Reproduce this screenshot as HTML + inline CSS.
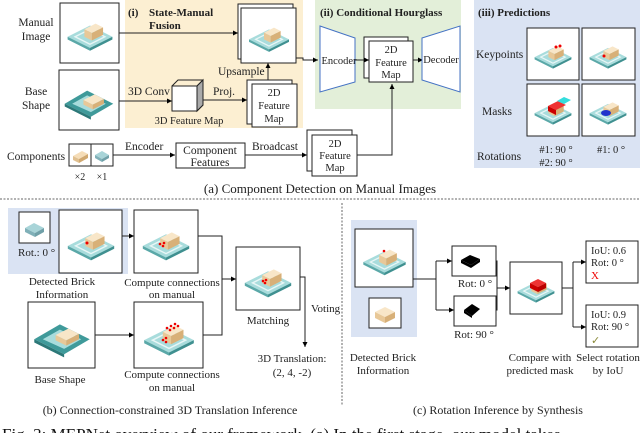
<!DOCTYPE html>
<html><head><meta charset="utf-8">
<style>
html,body{margin:0;padding:0;background:#fff;}
svg{display:block;font-family:"Liberation Serif",serif;}
</style></head>
<body>
<svg width="640" height="433" viewBox="0 0 640 433" xmlns="http://www.w3.org/2000/svg">
<defs>
<marker id="ar" markerWidth="6" markerHeight="6" refX="5" refY="3" orient="auto" markerUnits="userSpaceOnUse">
<path d="M0,0.5 L5,3 L0,5.5 z" fill="#000"/></marker>
<symbol id="sc" viewBox="0 0 60 60">
<polygon points="6,34 30,22 54,34 30,46" fill="#a8dcdc"/>
<polygon points="6,34 30,46 30,49 6,37" fill="#5aa8a8"/>
<polygon points="30,46 54,34 54,37 30,49" fill="#3f9090"/>
<polygon points="14,34 30,26 46,34 30,42" fill="none" stroke="#e8f6f6" stroke-width="1.5"/>
<polygon points="24,26 36,20 44,24 32,30" fill="#f8e6c8"/>
<polygon points="24,26 32,30 32,38 24,34" fill="#e8c898"/>
<polygon points="32,30 44,24 44,32 32,38" fill="#d8b078"/>
</symbol>
<symbol id="sc2" viewBox="0 0 60 60">
<polygon points="4,34 28,20 56,34 32,48" fill="#3f9a9a"/>
<polygon points="12,34 28,25 48,34 32,43" fill="#a8dcdc"/>
<polygon points="4,34 32,48 32,51 4,37" fill="#2c7878"/>
<polygon points="24,30 36,24 46,29 34,35" fill="#f8e6c8"/>
<polygon points="24,30 34,35 34,40 24,35" fill="#e8c898"/>
<polygon points="34,35 46,29 46,34 34,40" fill="#d8b078"/>
</symbol>
</defs>

<!-- backgrounds -->
<rect x="125" y="0" width="178" height="128" fill="#fcefd2"/>
<rect x="315" y="0" width="146" height="109" fill="#e3efd9"/>
<rect x="474" y="0" width="166" height="168" fill="#dae3f3"/>
<rect x="8" y="208" width="120" height="66" fill="#dae3f3"/>
<rect x="351" y="220" width="66" height="117" fill="#dae3f3"/>

<g font-size="11.5" fill="#222">
<!-- (a) left -->
<text x="36" y="26" text-anchor="middle">Manual</text>
<text x="36" y="40" text-anchor="middle">Image</text>
<rect x="60" y="3" width="59" height="60" fill="#fff" stroke="#222"/>
<use href="#sc" x="62" y="5" width="56" height="56"/>
<text x="36" y="95" text-anchor="middle">Base</text>
<text x="36" y="109" text-anchor="middle">Shape</text>
<rect x="59" y="70" width="60" height="60" fill="#fff" stroke="#222"/>
<use href="#sc2" x="61" y="72" width="56" height="56"/>

<text x="128" y="16" font-weight="bold" font-size="11">(i)</text>
<text x="149" y="16" font-weight="bold" font-size="11">State-Manual</text>
<text x="149" y="29" font-weight="bold" font-size="11">Fusion</text>
<line x1="119" y1="33" x2="238" y2="33" stroke="#222" marker-end="url(#ar)"/>
<rect x="238" y="4" width="55" height="55" fill="#fff" stroke="#222"/>
<rect x="241" y="8" width="55" height="55" fill="#fff" stroke="#222"/>
<use href="#sc" x="244" y="11" width="50" height="50"/>
<polyline points="296,58 303,58 303,60 318,60" fill="none" stroke="#222" marker-end="url(#ar)"/>
<text x="218" y="75">Upsample</text>
<line x1="268" y1="80" x2="268" y2="63" stroke="#222" marker-end="url(#ar)"/>
<rect x="247" y="80" width="45" height="44" fill="#fff" stroke="#222"/>
<rect x="252" y="84" width="45" height="43" fill="#fff" stroke="#222"/>
<text x="274" y="96" text-anchor="middle" font-size="10.5">2D</text>
<text x="274" y="109" text-anchor="middle" font-size="10.5">Feature</text>
<text x="274" y="122" text-anchor="middle" font-size="10.5">Map</text>
<text x="128" y="95">3D Conv</text>
<line x1="119" y1="101" x2="172" y2="101" stroke="#222" marker-end="url(#ar)"/>
<polygon points="172,86 197,86 203,80 203,105 197,111 172,111" fill="#fff" stroke="#222"/>
<polygon points="197,86 203,80 203,105 197,111" fill="#aaa" stroke="#222"/>
<polyline points="172,86 178,80 203,80" fill="none" stroke="#222"/>
<text x="213" y="95">Proj.</text>
<line x1="203" y1="100" x2="247" y2="100" stroke="#222" marker-end="url(#ar)"/>
<text x="189" y="124" text-anchor="middle" font-size="10.5">3D Feature Map</text>

<text x="7" y="160">Components</text>
<rect x="69" y="144" width="22" height="22" fill="#fff" stroke="#222"/>
<polygon points="73,156 82,151 88,154 79,159" fill="#f5ddb8"/><polygon points="73,156 79,159 79,163 73,160" fill="#e0c090"/><polygon points="79,159 88,154 88,158 79,163" fill="#d0a870"/>
<rect x="91" y="144" width="22" height="22" fill="#fff" stroke="#222"/>
<polygon points="95,155 102,151 109,155 102,159" fill="#a8d4d8"/><polygon points="95,155 102,159 102,162 95,158" fill="#80b0b8"/><polygon points="102,159 109,155 109,158 102,162" fill="#70a0a8"/>
<text x="80" y="180" text-anchor="middle" font-size="10">×2</text>
<text x="102" y="180" text-anchor="middle" font-size="10">×1</text>
<text x="125" y="150">Encoder</text>
<line x1="113" y1="155" x2="175" y2="155" stroke="#222" marker-end="url(#ar)"/>
<rect x="176" y="143" width="69" height="25" fill="#fff" stroke="#222"/>
<text x="210" y="154" text-anchor="middle">Component</text>
<text x="210" y="166" text-anchor="middle">Features</text>
<text x="252" y="150">Broadcast</text>
<line x1="245" y1="155" x2="307" y2="155" stroke="#222" marker-end="url(#ar)"/>
<rect x="307" y="130" width="45" height="41" fill="#fff" stroke="#222"/>
<rect x="312" y="135" width="45" height="41" fill="#fff" stroke="#222"/>
<text x="335" y="147" text-anchor="middle" font-size="10.5">2D</text>
<text x="335" y="159" text-anchor="middle" font-size="10.5">Feature</text>
<text x="335" y="171" text-anchor="middle" font-size="10.5">Map</text>
<polyline points="357,155 392,155 392,84" fill="none" stroke="#222" marker-end="url(#ar)"/>

<!-- (ii) -->
<text x="320" y="16" font-weight="bold" font-size="11">(ii) Conditional Hourglass</text>
<polygon points="320,26 355,38 355,82 320,92" fill="#fff" stroke="#4472c4"/>
<text x="339" y="64" text-anchor="middle" font-size="10.5">Encoder</text>
<rect x="364" y="37" width="44" height="41" fill="#fff" stroke="#222"/>
<rect x="369" y="41" width="44" height="41" fill="#fff" stroke="#222"/>
<text x="391" y="53" text-anchor="middle" font-size="10.5">2D</text>
<text x="391" y="66" text-anchor="middle" font-size="10.5">Feature</text>
<text x="391" y="78" text-anchor="middle" font-size="10.5">Map</text>
<line x1="355" y1="60" x2="369" y2="60" stroke="#222" marker-end="url(#ar)"/>
<line x1="413" y1="60" x2="423" y2="60" stroke="#222" marker-end="url(#ar)"/>
<polygon points="422,38 460,26 460,92 422,80" fill="#fff" stroke="#4472c4"/>
<text x="441" y="63" text-anchor="middle" font-size="10.5">Decoder</text>

<!-- (iii) -->
<text x="478" y="16" font-weight="bold" font-size="11">(iii) Predictions</text>
<text x="476" y="58">Keypoints</text>
<text x="482" y="115">Masks</text>
<text x="477" y="160">Rotations</text>
<rect x="527" y="28" width="52" height="52" fill="#fff" stroke="#222"/>
<rect x="582" y="28" width="53" height="52" fill="#fff" stroke="#222"/>
<rect x="527" y="84" width="52" height="52" fill="#fff" stroke="#222"/>
<rect x="582" y="84" width="53" height="52" fill="#fff" stroke="#222"/>
<use href="#sc" x="530" y="31" width="46" height="46"/>
<use href="#sc" x="585" y="31" width="46" height="46"/>
<use href="#sc" x="530" y="87" width="46" height="46"/>
<use href="#sc" x="585" y="87" width="46" height="46"/>
<circle cx="556" cy="47" r="1.5" fill="#e00"/><circle cx="560" cy="46" r="1.5" fill="#e00"/>
<circle cx="604" cy="56" r="1.5" fill="#e00"/>
<polygon points="548,106 558,101 566,105 556,110" fill="#e33"/><polygon points="548,106 556,110 556,115 548,111" fill="#c00"/>
<polygon points="557,101 564,97 571,100 564,104" fill="#3dd"/>
<ellipse cx="606" cy="113" rx="5" ry="3" fill="#23c"/>
<text x="556" y="153" text-anchor="middle" font-size="10.5">#1: 90 °</text>
<text x="556" y="166" text-anchor="middle" font-size="10.5">#2: 90 °</text>
<text x="611" y="153" text-anchor="middle" font-size="10.5">#1: 0 °</text>

<text x="320" y="193" text-anchor="middle" font-size="13">(a) Component Detection on Manual Images</text>
<line x1="0" y1="199" x2="640" y2="199" stroke="#666" stroke-dasharray="2,1.5"/>
<line x1="342" y1="203" x2="342" y2="405" stroke="#666" stroke-dasharray="2,1.5"/>

<!-- (b) -->
<rect x="19" y="212" width="31" height="31" fill="#fff" stroke="#222"/>
<polygon points="25,228 34,223 44,228 35,233" fill="#a8d4d8"/><polygon points="25,228 35,233 35,237 25,232" fill="#80b0b8"/><polygon points="35,233 44,228 44,232 35,237" fill="#70a0a8"/>
<text x="18" y="256" font-size="11">Rot.: 0 °</text>
<rect x="59" y="210" width="63" height="63" fill="#fff" stroke="#222"/>
<use href="#sc" x="62" y="213" width="58" height="58"/>
<circle cx="87" cy="243" r="1.5" fill="#e00"/>
<text x="62" y="285" text-anchor="middle" font-size="11">Detected Brick</text>
<text x="62" y="298" text-anchor="middle" font-size="11">Information</text>
<line x1="122" y1="236" x2="134" y2="236" stroke="#222" marker-end="url(#ar)"/>
<rect x="134" y="210" width="64" height="63" fill="#fff" stroke="#222"/>
<use href="#sc" x="137" y="213" width="58" height="58"/>
<circle cx="160" cy="244" r="1.3" fill="#e00"/><circle cx="164" cy="243" r="1.3" fill="#e00"/><circle cx="163" cy="246" r="1.3" fill="#e00"/>
<text x="172" y="286" text-anchor="middle" font-size="11">Compute connections</text>
<text x="172" y="298" text-anchor="middle" font-size="11">on manual</text>
<rect x="28" y="302" width="67" height="66" fill="#fff" stroke="#222"/>
<use href="#sc2" x="30" y="303" width="64" height="64"/>
<text x="60" y="383" text-anchor="middle" font-size="11">Base Shape</text>
<line x1="95" y1="335" x2="134" y2="335" stroke="#222" marker-end="url(#ar)"/>
<rect x="134" y="302" width="69" height="66" fill="#fff" stroke="#222"/>
<use href="#sc" x="138" y="305" width="62" height="62"/>
<g fill="#e00"><circle cx="167" cy="328" r="1.3"/><circle cx="171" cy="326" r="1.3"/><circle cx="175" cy="324" r="1.3"/><circle cx="170" cy="330" r="1.3"/><circle cx="174" cy="328" r="1.3"/><circle cx="178" cy="326" r="1.3"/><circle cx="163" cy="340" r="1.3"/><circle cx="166" cy="338" r="1.3"/><circle cx="166" cy="342" r="1.3"/></g>
<text x="172" y="378" text-anchor="middle" font-size="11">Compute connections</text>
<text x="172" y="391" text-anchor="middle" font-size="11">on manual</text>
<polyline points="198,236 222,236 222,335 203,335" fill="none" stroke="#222"/>
<line x1="222" y1="279" x2="236" y2="279" stroke="#222" marker-end="url(#ar)"/>
<rect x="236" y="247" width="64" height="63" fill="#fff" stroke="#222"/>
<use href="#sc" x="239" y="250" width="58" height="58"/>
<circle cx="263" cy="281" r="1.3" fill="#e00"/><circle cx="266" cy="280" r="1.3" fill="#e00"/><circle cx="265" cy="283" r="1.3" fill="#e00"/>
<text x="268" y="324" text-anchor="middle" font-size="11">Matching</text>
<polyline points="300,277 305,277 305,347" fill="none" stroke="#222" marker-end="url(#ar)"/>
<text x="311" y="312" font-size="11">Voting</text>
<text x="292" y="362" text-anchor="middle" font-size="11">3D Translation:</text>
<text x="292" y="376" text-anchor="middle" font-size="11">(2, 4, -2)</text>
<text x="170" y="414" text-anchor="middle" font-size="12">(b) Connection-constrained 3D Translation Inference</text>

<!-- (c) -->
<rect x="355" y="229" width="58" height="58" fill="#fff" stroke="#222"/>
<use href="#sc" x="358" y="232" width="53" height="53"/>
<circle cx="384" cy="251" r="1.3" fill="#e00"/>
<rect x="369" y="298" width="32" height="30" fill="#fff" stroke="#222"/>
<polygon points="375,312 385,307 395,312 385,317" fill="#f8e6c8"/><polygon points="375,312 385,317 385,323 375,318" fill="#e8c898"/><polygon points="385,317 395,312 395,318 385,323" fill="#d8b078"/>
<text x="383" y="361" text-anchor="middle" font-size="11">Detected Brick</text>
<text x="383" y="374" text-anchor="middle" font-size="11">Information</text>
<polyline points="413,279 436,279" fill="none" stroke="#222"/>
<line x1="436" y1="261" x2="436" y2="310" stroke="#222"/>
<line x1="436" y1="261" x2="452" y2="261" stroke="#222" marker-end="url(#ar)"/>
<line x1="436" y1="310" x2="454" y2="310" stroke="#222" marker-end="url(#ar)"/>
<rect x="452" y="246" width="44" height="30" fill="#fff" stroke="#222"/>
<polygon points="461,260 470,255 480,259 471,265" fill="#000"/><polygon points="461,260 471,265 471,268 461,263" fill="#000"/><polygon points="471,265 480,259 480,262 471,268" fill="#000"/>
<text x="475" y="287" text-anchor="middle" font-size="11">Rot: 0 °</text>
<rect x="454" y="296" width="42" height="30" fill="#fff" stroke="#222"/>
<polygon points="464,310 472,304 480,309 472,316" fill="#000"/><polygon points="464,310 472,316 472,318 464,313" fill="#000"/>
<text x="474" y="338" text-anchor="middle" font-size="11">Rot: 90 °</text>
<polyline points="496,261 497,261 497,310 496,310" fill="none" stroke="#222"/>
<line x1="497" y1="288" x2="510" y2="288" stroke="#222" marker-end="url(#ar)"/>
<rect x="510" y="262" width="52" height="52" fill="#fff" stroke="#222"/>
<use href="#sc" x="513" y="265" width="46" height="46"/>
<polygon points="530,283 538,279 546,283 538,287" fill="#e33"/><polygon points="530,283 538,287 538,292 530,288" fill="#c00"/><polygon points="538,287 546,283 546,288 538,292" fill="#b00"/>
<text x="540" y="361" text-anchor="middle" font-size="11">Compare with</text>
<text x="540" y="374" text-anchor="middle" font-size="11">predicted mask</text>
<line x1="562" y1="288" x2="573" y2="288" stroke="#222"/>
<line x1="573" y1="262" x2="573" y2="327" stroke="#222"/>
<line x1="573" y1="262" x2="586" y2="262" stroke="#222" marker-end="url(#ar)"/>
<line x1="573" y1="327" x2="586" y2="327" stroke="#222" marker-end="url(#ar)"/>
<rect x="586" y="241" width="52" height="42" fill="#fff" stroke="#222"/>
<text x="591" y="254" font-size="10.5">IoU: 0.6</text>
<text x="591" y="266" font-size="10.5">Rot: 0 °</text>
<text x="591" y="279" font-size="11" fill="#e00">X</text>
<rect x="586" y="305" width="52" height="42" fill="#fff" stroke="#222"/>
<text x="591" y="318" font-size="10.5">IoU: 0.9</text>
<text x="591" y="330" font-size="10.5">Rot: 90 °</text>
<text x="591" y="344" font-size="11" fill="#8a8a3a">✓</text>
<text x="608" y="361" text-anchor="middle" font-size="11">Select rotation</text>
<text x="608" y="374" text-anchor="middle" font-size="11">by IoU</text>
<text x="498" y="414" text-anchor="middle" font-size="12">(c) Rotation Inference by Synthesis</text>
</g>
<text x="2" y="440" font-size="17" fill="#111">Fig. 3: MEPNet overview of our framework. (a) In the first stage, our model takes</text>
</svg>
</body></html>
